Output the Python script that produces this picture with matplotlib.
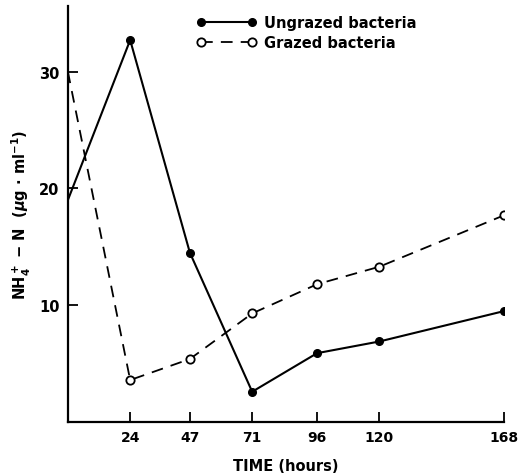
import matplotlib.pyplot as plt
import numpy as np

hours = [0, 24, 47, 71, 96, 120, 168]
ungrazed = [19.0, 32.7, 14.5, 2.6, 5.9, 6.9, 9.5]
grazed = [30.0, 3.6, 5.4, 9.3, 11.8, 13.3, 17.7]

x_ticks = [24, 47, 71, 96, 120, 168]
y_ticks = [10, 20, 30]

plt.rcParams["font.family"] = "DejaVu Sans"
plt.rcParams["font.weight"] = "bold"

fig = plt.figure(figsize=(5.18, 4.77), dpi=100)
ax = fig.add_axes([0.131, 0.113, 0.842, 0.872])

ax.plot(hours, ungrazed, color="black", linewidth=1.5, marker="o", markersize=5.5,
        markevery=list(range(1, len(hours))), label="Ungrazed bacteria")
ax.plot(hours, grazed, color="black", linewidth=1.3, linestyle=(0, (6.5, 4.5)), marker="o",
        markersize=6, markerfacecolor="white", markeredgewidth=1.3,
        markevery=list(range(1, len(hours))), label="Grazed bacteria")

ax.set_xlim(0, 168)
ax.set_ylim(0, 35.6)
ax.set_xticks(x_ticks)
ax.set_yticks(y_ticks)
ax.set_xticklabels([str(t) for t in x_ticks], fontsize=10, fontweight="bold")
ax.set_yticklabels([str(t) for t in y_ticks], fontsize=10.5, fontweight="bold")
ax.tick_params(axis="both", direction="in", length=7, width=1.3, pad=6)
ax.spines["top"].set_visible(False)
ax.spines["right"].set_visible(False)
ax.spines["left"].set_linewidth(1.6)
ax.spines["bottom"].set_linewidth(1.6)

ax.set_xlabel("TIME (hours)", fontsize=10.5, fontweight="bold", labelpad=10)
ax.set_ylabel(r"NH$_4^+$ $-$ N  ($\mu$g $\cdot$ ml$^{-1}$)", fontsize=10.5,
              fontweight="bold", labelpad=4)

leg = ax.legend(loc="upper left", bbox_to_anchor=(0.265, 1.01), frameon=False,
                numpoints=2, handlelength=4.1, handletextpad=0.5, labelspacing=0.35,
                prop={"size": 10.5, "weight": "bold"})

fig.savefig("out.png", dpi=100)
